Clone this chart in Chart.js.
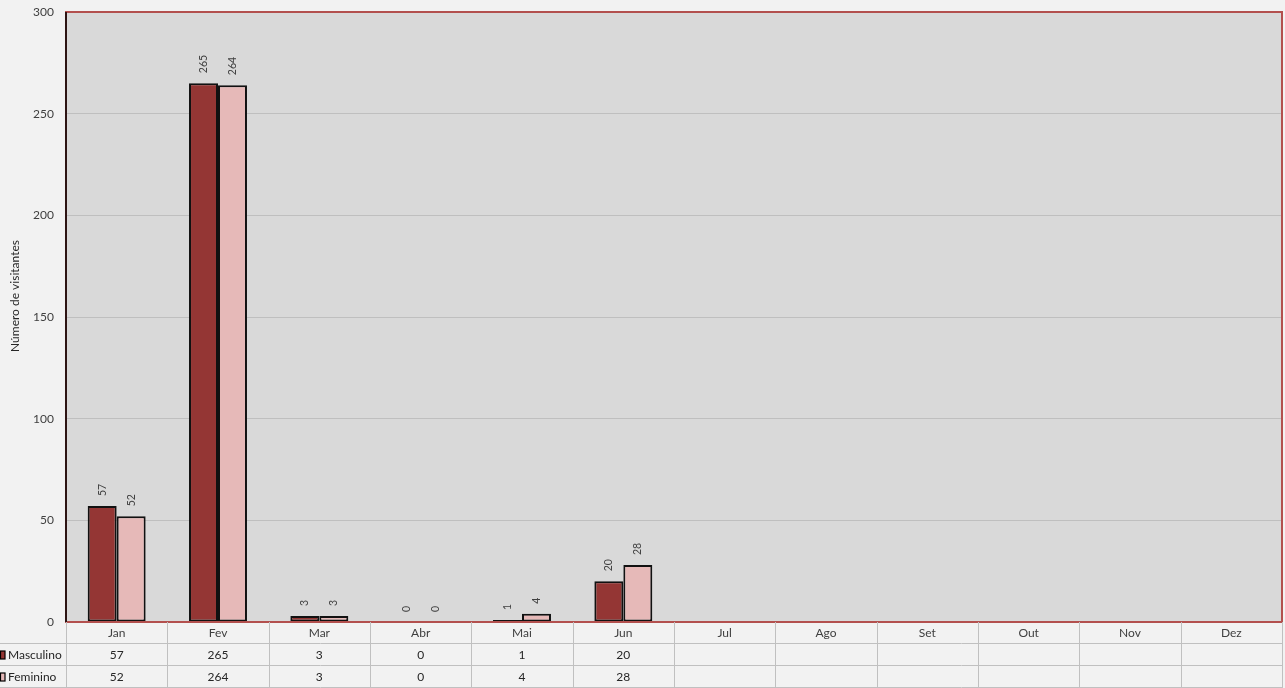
<!DOCTYPE html>
<html>
<head>
<meta charset="utf-8">
<script src="https://cdn.jsdelivr.net/npm/chart.js@4/dist/chart.umd.min.js"></script>
<style>
  body { margin: 0; background: #f2f2f2; }
  canvas { display: block; }
</style>
</head>
<body>
<canvas id="chart" width="1285" height="688"></canvas>
<script>
// ===== Data =====
const months = ["Jan", "Fev", "Mar", "Abr", "Mai", "Jun", "Jul", "Ago", "Set", "Out", "Nov", "Dez"];
const masculino = [57, 265, 3, 0, 1, 20, null, null, null, null, null, null];
const feminino = [52, 264, 3, 0, 4, 28, null, null, null, null, null, null];
const seriesNames = ["Masculino", "Feminino"];
const yTitle = "Número de visitantes";
const yMin = 0, yMax = 300, yStep = 50;

const FONT = "Lato, 'Open Sans', sans-serif";
const colors = ["#943634", "#e6b9b8"];

// ===== Plugins =====
const plotBackground = {
  id: "plotBackground",
  beforeDraw(chart) {
    const { ctx, chartArea: a } = chart;
    ctx.save();
    ctx.fillStyle = "#d9d9d9";
    ctx.fillRect(a.left, a.top, a.right - a.left, a.bottom - a.top);
    // axis title, placed where Excel puts it
    ctx.translate(15, 296);
    ctx.rotate(-Math.PI / 2);
    ctx.font = "12px " + FONT;
    ctx.fillStyle = "#262626";
    ctx.textAlign = "center";
    ctx.textBaseline = "middle";
    ctx.fillText(yTitle, 0, 0);
    ctx.restore();
  }
};

const valueLabels = {
  id: "valueLabels",
  afterDatasetsDraw(chart) {
    const { ctx } = chart;
    ctx.save();
    ctx.font = "10.5px " + FONT;
    ctx.fillStyle = "#404040";
    ctx.textAlign = "left";
    ctx.textBaseline = "middle";
    chart.data.datasets.forEach((ds, di) => {
      chart.getDatasetMeta(di).data.forEach((bar, i) => {
        const v = ds.data[i];
        if (v === null) return;
        ctx.save();
        ctx.translate(bar.x, bar.y - 10);
        ctx.rotate(-Math.PI / 2);
        ctx.fillText(String(v), 0, 0);
        ctx.restore();
      });
    });
    ctx.restore();
  }
};

const plotFrame = {
  id: "plotFrame",
  afterDatasetsDraw(chart) {
    const { ctx, chartArea: a } = chart;
    ctx.save();
    ctx.strokeStyle = "#b3504e";
    ctx.lineWidth = 2;
    ctx.strokeRect(a.left, a.top, a.right - a.left, a.bottom - a.top);
    ctx.strokeStyle = "#000";
    ctx.lineWidth = 1.5;
    ctx.beginPath();
    ctx.moveTo(a.left, a.top);
    ctx.lineTo(a.left, a.bottom);
    ctx.stroke();
    ctx.restore();
  }
};

// data table under the plot, columns taken from the x scale
const dataTable = {
  id: "dataTable",
  afterDraw(chart) {
    const { ctx, chartArea: a } = chart;
    const x = chart.scales.x;
    const rowH = 22;
    const top = a.bottom;
    const edges = [x.left];
    for (let i = 0; i < months.length - 1; i++) {
      edges.push((x.getPixelForValue(i) + x.getPixelForValue(i + 1)) / 2);
    }
    edges.push(x.right);

    ctx.save();
    ctx.strokeStyle = "#c0c0c0";
    ctx.lineWidth = 1;
    ctx.beginPath();
    for (let r = 1; r <= 3; r++) {
      const y = Math.round(top + r * rowH) - 0.5;
      ctx.moveTo(0, y);
      ctx.lineTo(x.right, y);
    }
    edges.forEach(e => {
      const xx = Math.round(e) + 0.5;
      ctx.moveTo(xx, top);
      ctx.lineTo(xx, top + 3 * rowH);
    });
    ctx.stroke();

    ctx.font = "12px " + FONT;
    ctx.textAlign = "center";
    ctx.textBaseline = "middle";
    ctx.fillStyle = "#404040";
    months.forEach((m, i) => {
      ctx.fillText(m, x.getPixelForValue(i), top + rowH / 2);
    });

    ctx.fillStyle = "#262626";
    [masculino, feminino].forEach((vals, r) => {
      const cy = top + rowH * (r + 1) + rowH / 2;
      vals.forEach((v, i) => {
        if (v === null) return;
        ctx.fillText(String(v), x.getPixelForValue(i), cy);
      });
      // legend key + series name
      ctx.fillStyle = colors[r];
      ctx.fillRect(0, cy - 4, 5, 8);
      ctx.strokeStyle = "#000";
      ctx.lineWidth = 1.2;
      ctx.strokeRect(0.5, cy - 4, 4.5, 8);
      ctx.fillStyle = "#262626";
      ctx.textAlign = "left";
      ctx.fillText(seriesNames[r], 8, cy);
      ctx.textAlign = "center";
    });
    ctx.restore();
  }
};

// ===== Chart =====
new Chart(document.getElementById("chart"), {
  type: "bar",
  data: {
    labels: months,
    datasets: [
      {
        label: seriesNames[0],
        data: masculino,
        backgroundColor: colors[0],
        borderColor: "#111",
        borderWidth: 2,
        borderSkipped: false
      },
      {
        label: seriesNames[1],
        data: feminino,
        backgroundColor: colors[1],
        borderColor: "#111",
        borderWidth: 2,
        borderSkipped: false
      }
    ]
  },
  options: {
    responsive: false,
    animation: false,
    devicePixelRatio: 1,
    layout: { padding: { top: 12, right: 3, left: 0, bottom: 0 } },
    datasets: { bar: { categoryPercentage: 0.572, barPercentage: 1 } },
    plugins: {
      legend: { display: false },
      tooltip: { enabled: false }
    },
    scales: {
      x: {
        grid: { display: false },
        border: { display: false },
        ticks: { display: false },
        afterFit(scale) { scale.height = 66; }
      },
      y: {
        min: yMin,
        max: yMax,
        ticks: {
          stepSize: yStep,
          padding: 12,
          color: "#404040",
          font: { family: FONT, size: 12 }
        },
        grid: { color: "#bfbfbf", lineWidth: 1, drawTicks: false },
        border: { display: false },
        afterFit(scale) {
          scale.width = 66;
          scale.paddingTop = 0;
          scale.paddingBottom = 0;
        }
      }
    }
  },
  plugins: [plotBackground, valueLabels, plotFrame, dataTable]
});
</script>
</body>
</html>
